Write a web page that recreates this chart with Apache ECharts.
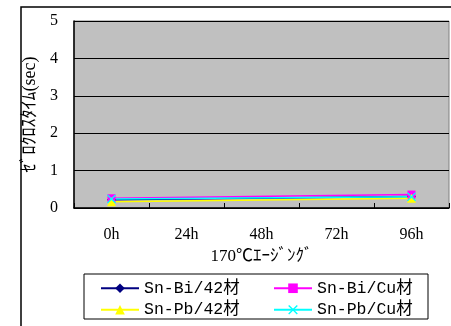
<!DOCTYPE html>
<html><head><meta charset="utf-8">
<script src="https://cdn.jsdelivr.net/npm/echarts@6/dist/echarts.min.js"></script>
<style>html,body{margin:0;padding:0;background:#fff}#c{width:451px;height:326px}</style>
</head><body><div id="c"></div>
<script>
const categories = ['0h', '24h', '48h', '72h', '96h'];
const seriesNames = ['Sn-Bi/42材', 'Sn-Bi/Cu材', 'Sn-Pb/42材', 'Sn-Pb/Cu材'];
const snBi42 = [0.22, null, null, null, 0.31];
const snBiCu = [0.26, null, null, null, 0.36];
const snPb42 = [0.17, null, null, null, 0.26];
const snPbCu = [0.24, null, null, null, 0.30];
const yTicks = [0, 1, 2, 3, 4, 5];

const serif = "'Liberation Serif', 'Noto Sans CJK JP', serif";
const mono = "'Liberation Mono', 'Noto Sans CJK JP', monospace";
const crossPath = 'path://M0,1L1,0L5,4L9,0L10,1L6,5L10,9L9,10L5,6L1,10L0,9L4,5Z';

const chart = echarts.init(document.getElementById('c'), null, {renderer: 'canvas'});
function mk(name, data, color, symbol, size) {
  return {
    name, type: 'line', data, connectNulls: true,
    symbol, symbolSize: size,
    lineStyle: {color, width: 1.5},
    itemStyle: {color},
    animation: false
  };
}
chart.setOption({
  animation: false,
  graphic: [
    {type: 'rect', shape: {x: 21, y: 7, width: 500, height: 400}, style: {fill: 'none', stroke: '#000', lineWidth: 1.5}, z: -10},
    {type: 'rect', shape: {x: 84, y: 274, width: 344, height: 45}, style: {fill: '#fff', stroke: '#000', lineWidth: 1}, z: 0}
  ],
  grid: {left: 74, right: 2, top: 21, bottom: 118, show: true, backgroundColor: '#C0C0C0', borderColor: '#808080', borderWidth: 1},
  xAxis: {
    type: 'category', data: categories, boundaryGap: true,
    axisLine: {lineStyle: {color: '#000', width: 1.5}},
    axisTick: {show: true, inside: true, length: 5, lineStyle: {color: '#000'}},
    axisLabel: {color: '#000', fontFamily: serif, fontSize: 16, margin: 19},
    name: '170℃ｴｰｼﾞﾝｸﾞ', nameLocation: 'middle', nameGap: 40,
    nameTextStyle: {color: '#000', fontFamily: serif, fontSize: 17}
  },
  yAxis: {
    type: 'value', min: yTicks[0], max: yTicks[yTicks.length - 1], interval: 1,
    axisLine: {show: true, lineStyle: {color: '#000', width: 1.5}},
    axisTick: {show: false},
    splitLine: {lineStyle: {color: '#000', width: 1}},
    axisLabel: {color: '#000', fontFamily: serif, fontSize: 16, margin: 16},
    name: 'ｾﾞﾛｸﾛｽﾀｲﾑ(sec)', nameLocation: 'middle', nameGap: 30, nameRotate: 90,
    nameTextStyle: {color: '#000', fontFamily: serif, fontSize: 18}
  },
  legend: [
    {data: [seriesNames[0], seriesNames[2]], orient: 'vertical', left: 95, top: 275, itemWidth: 38, itemHeight: 12, itemGap: 5,
     textStyle: {color: '#000', fontFamily: mono, fontSize: 16.5}},
    {data: [seriesNames[1], seriesNames[3]], orient: 'vertical', left: 268, top: 275, itemWidth: 38, itemHeight: 12, itemGap: 5,
     textStyle: {color: '#000', fontFamily: mono, fontSize: 16.5}}
  ],
  series: [
    mk(seriesNames[0], snBi42, '#000080', 'diamond', 9),
    mk(seriesNames[1], snBiCu, '#FF00FF', 'rect', 8),
    mk(seriesNames[2], snPb42, '#FFFF00', 'triangle', 9),
    mk(seriesNames[3], snPbCu, '#00FFFF', crossPath, 9)
  ]
});
</script></body></html>
